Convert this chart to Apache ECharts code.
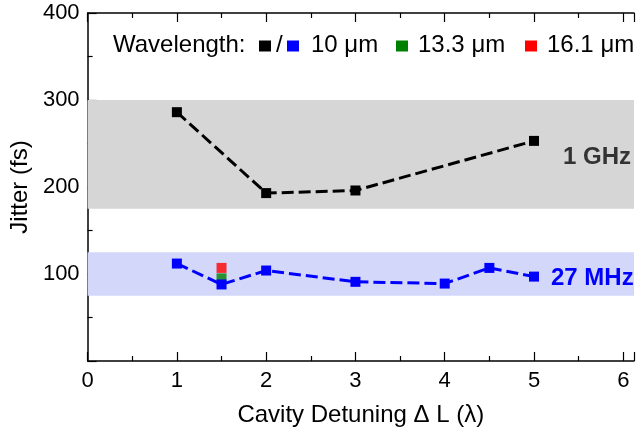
<!DOCTYPE html>
<html><head><meta charset="utf-8">
<script src="https://cdn.jsdelivr.net/npm/echarts@6/dist/echarts.min.js"></script>
<style>html,body{margin:0;padding:0;background:#fff}#c{width:637px;height:432px}</style>
</head><body><div id="c"></div>
<script>
const ghzX = [1, 2, 3, 5];
const ghzY = [286, 193, 196, 253];
const mhzX = [1, 1.5, 2, 3, 4, 4.5, 5];
const mhzY = [112, 88, 104, 91, 89, 107, 97];
const green13X = [1.5];
const green13Y = [95];
const red16X = [1.5];
const red16Y = [107];
const ghzBand = [175, 300];
const mhzBand = [75, 125];
const legendLabels = ['Wavelength:', '10 \u03bcm', '13.3 \u03bcm', '16.1 \u03bcm'];
const bandLabels = ['1 GHz', '27 MHz'];

const zip = (xs, ys) => xs.map((x, i) => [x, ys[i]]);
const F = 'Liberation Sans, Arial, sans-serif';
const chart = echarts.init(document.getElementById('c'));
const axisCommon = {
  type: 'value', min: 0, interval: 1,
  axisLine: {show: true, lineStyle: {color: '#000', width: 1.5}},
  axisTick: {show: true, inside: true, length: 9, lineStyle: {color: '#000', width: 1.2}},
  minorTick: {show: true, splitNumber: 2, length: 5, lineStyle: {color: '#000', width: 1.2}},
  splitLine: {show: false}
};
const legY = 46;
const txt = (x, y, text, extra) => ({type: 'text', x: x, y: y, z: 10,
  style: Object.assign({text: text, fontFamily: F, fontSize: 24, fill: '#000', verticalAlign: 'middle'}, extra || {})});
const sq = (x, color) => ({type: 'rect', z: 10, shape: {x: x, y: legY - 5.5, width: 12, height: 11}, style: {fill: color}});
chart.setOption({
  animation: false,
  grid: {left: 86, top: 13, right: 0, bottom: 71},
  xAxis: [
    Object.assign({}, axisCommon, {
      max: 6.12, position: 'bottom',
      name: 'Cavity Detuning \u0394 L (\u03bb)', nameLocation: 'middle', nameGap: 42,
      nameTextStyle: {fontFamily: F, fontSize: 24, color: '#000'},
      axisLabel: {fontFamily: F, fontSize: 22, color: '#000', margin: 9,
        formatter: v => (Math.abs(v - Math.round(v)) < 1e-6 ? String(Math.round(v)) : '')}
    }),
    Object.assign({}, axisCommon, {
      max: 6.12, position: 'top', axisLabel: {show: false}
    })
  ],
  yAxis: {
    type: 'value', min: 0, max: 400, interval: 100,
    axisLine: {show: true, lineStyle: {color: '#000', width: 1.5}},
    axisTick: {show: true, inside: true, length: 9, lineStyle: {color: '#000', width: 1.2}},
    minorTick: {show: true, splitNumber: 2, length: 5, lineStyle: {color: '#000', width: 1.2}},
    splitLine: {show: false},
    name: 'Jitter (fs)', nameLocation: 'middle', nameGap: 49,
    nameTextStyle: {fontFamily: F, fontSize: 24, color: '#000'},
    axisLabel: {fontFamily: F, fontSize: 22, color: '#000', margin: 8,
      formatter: v => (v === 0 ? '' : String(v))}
  },
  series: [
    {
      type: 'line', data: zip(ghzX, ghzY), symbol: 'rect', symbolSize: 10,
      itemStyle: {color: '#000'}, lineStyle: {color: '#000', width: 3, type: [12, 5]},
      markArea: {silent: true, itemStyle: {color: '#d6d6d6'},
        data: [[{yAxis: ghzBand[0]}, {yAxis: ghzBand[1]}]]},
      z: 3
    },
    {
      type: 'line', data: zip(mhzX, mhzY), symbol: 'rect', symbolSize: 10,
      itemStyle: {color: '#0000ff'}, lineStyle: {color: '#0000ff', width: 3, type: [12, 5]},
      markArea: {silent: true, itemStyle: {color: '#d3d7fa'},
        data: [[{yAxis: mhzBand[0]}, {yAxis: mhzBand[1]}]]},
      z: 5
    },
    {type: 'scatter', data: zip(red16X, red16Y), symbol: 'rect', symbolSize: 10,
      itemStyle: {color: '#ff0000'}, z: 3},
    {type: 'scatter', data: zip(green13X, green13Y), symbol: 'rect', symbolSize: 10,
      itemStyle: {color: '#008000'}, z: 4}
  ],
  graphic: [
    txt(113, legY - 1, legendLabels[0]),
    sq(259, '#000'),
    txt(276, legY - 1, '/'),
    sq(287, '#0000ff'),
    txt(311, legY - 1, legendLabels[1]),
    sq(396, '#008000'),
    txt(418, legY - 1, legendLabels[2]),
    sq(525, '#ff0000'),
    txt(547, legY - 1, legendLabels[3]),
    txt(563, 157, bandLabels[0], {fontWeight: 'bold', fill: '#333'}),
    txt(551, 278, bandLabels[1], {fontWeight: 'bold', fill: '#0000ff'})
  ]
});
</script></body></html>
